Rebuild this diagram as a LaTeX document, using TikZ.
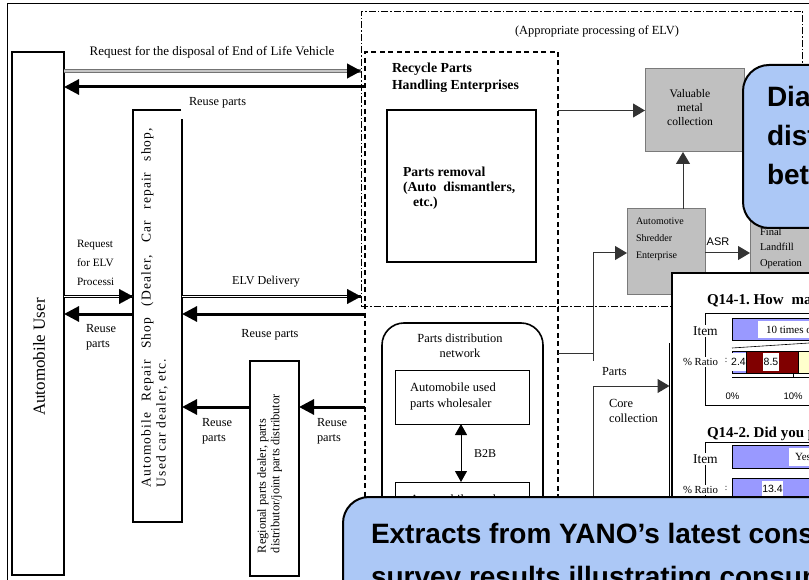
\documentclass[tikz,border=0pt]{standalone}
\usepackage{fontspec}
\setmainfont{Liberation Serif}
\newfontfamily\arial{Liberation Sans}
\newfontfamily\spaced[LetterSpace=8]{Liberation Serif}
\usetikzlibrary{arrows.meta}
\newcommand\myfs[2]{\fontsize{#1}{#2}\selectfont}
\definecolor{gfill}{HTML}{C0C0C0}
\definecolor{gline}{HTML}{7A7A7A}
\definecolor{lav}{HTML}{9999FF}
\definecolor{dred}{HTML}{800000}
\definecolor{lyel}{HTML}{FFFFCC}
\definecolor{cblue}{RGB}{172,200,246}
\definecolor{conn}{HTML}{333333}
\begin{document}
\begin{tikzpicture}[x=1pt,y=-1pt,
 every node/.style={inner sep=0pt, outer sep=0pt},
 bbox/.style={draw, line width=1.6pt, fill=white},
 tbox/.style={draw, line width=1pt},
 gbox/.style={draw=gline, fill=gfill, line width=1pt},
 dashdot/.style={draw, line width=0.8pt, dash pattern=on 7pt off 2pt on 1.5pt off 2pt},
 dashbox/.style={draw, line width=1.6pt, dash pattern=on 5pt off 3.5pt},
 fat/.style={line width=3pt, -{Triangle[length=15pt,width=15pt]}},
 dblk/.style={double, double distance=1.8pt, line width=0.8pt},
 dgray/.style={draw=gray!90!black, double=gray!45, double distance=1.6pt, line width=1.2pt},
 tip/.style={line width=0.1pt, -{Triangle[length=14pt,width=15pt]}},
 thin/.style={line width=1pt, draw=conn},
 thinarr/.style={thin, -{Triangle[length=12pt,width=14pt]}},
 callout/.style={draw, line width=2pt, fill=cblue, rounded corners=26pt},
 lbl/.style={font=\myfs{12.3}{15.3}, align=left},
 whitelbl/.style={fill=white, inner xsep=1pt, inner ysep=1.5pt},
 bigtxt/.style={font=\arial\bfseries\myfs{28}{30}},
]
\useasboundingbox (0,0) rectangle (809,580);
\fill[white] (0,0) rectangle (809,580);
% outer frame
\draw[line width=1.8pt] (7.5,3.5) rectangle (840,620);

% appropriate processing region
\node[dashdot, minimum width=441pt, minimum height=295pt, anchor=north west] (dda) at (361,11) {};
\node[font=\myfs{12.4}{14}] (apl) at (597,31) {(Appropriate processing of ELV)};

% recycle parts handling enterprises
\node[dashbox, minimum width=193pt, minimum height=560pt, anchor=north west] (rpe) at (365,52) {};
\node[anchor=west, font=\bfseries\myfs{13.8}{17}, align=left] (rpel) at (392,78) {Recycle Parts\\Handling Enterprises};
\node[bbox, minimum width=149pt, minimum height=152pt, anchor=north west] (prm) at (387,110) {};
\node[anchor=west, font=\bfseries\myfs{13.7}{15}, align=left] (prml) at (403,188) {Parts removal\\(Auto\ \ dismantlers,\\\hspace{10pt}etc.)};

% automobile user
\node[bbox, minimum width=52pt, minimum height=523pt, anchor=north west] (user) at (12,52) {};
\node[rotate=90, font=\myfs{17}{20}] (userl) at (39,357) {Automobile User};

% repair shop
\node[minimum width=49pt, minimum height=412pt, anchor=north west] (shop) at (133,110) {};
\draw[line width=1.8pt] ([xshift=-1pt]shop.north east) -| (shop.south west) -| ([yshift=-9pt]shop.north east);
\node[rotate=90, anchor=west, font=\spaced\myfs{13.5}{15}] (shop1) at (147.5,487) {\makebox[359pt][s]{Automobile Repair Shop (Dealer, Car repair shop,}};
\node[rotate=90, anchor=west, font=\spaced\myfs{13.5}{15}] (shop2) at (162,487) {Used car dealer, etc.};

% regional parts dealer
\node[bbox, minimum width=49pt, minimum height=215pt, anchor=north west] (reg) at (250,361) {};
\node[rotate=90, anchor=west, font=\myfs{12.3}{14}] (reg1) at (263,553) {Regional parts dealer, parts};
\node[rotate=90, anchor=west, font=\myfs{12.3}{14}] (reg2) at (276.5,553) {distributor/joint parts distributor};

% top arrows
\coordinate (a1s) at (user.east |- 0,71);
\coordinate (a1e) at (dda.west |- 0,71);
\draw[dgray] (a1s) -- (a1e);
\draw[tip] ([xshift=-2pt]a1e) -- (a1e);
\node[font=\myfs{13}{15}] (a1l) at (212,52) {Request for the disposal of End of Life Vehicle};
\draw[fat] (rpe.west |- 0,87) -- (user.east |- 0,87);
\node[anchor=west, lbl] (a2l) at (189,103) {Reuse parts};

% request for ELV processing
\coordinate (b1s) at (user.east |- 0,296.5);
\coordinate (b1e) at (shop.west |- 0,296.5);
\draw[dblk] (b1s) -- (b1e);
\draw[tip] ([xshift=-2pt]b1e) -- (b1e);
\node[anchor=west, font=\myfs{11.2}{19}, align=left] (b1l) at (77,263) {Request\\for ELV\\Processi};

% ELV delivery
\coordinate (b2s) at (shop.east |- 0,296.5);
\coordinate (b2e) at (dda.west |- 0,296.5);
\draw[dblk] (b2s) -- (b2e);
\draw[tip] ([xshift=-2pt]b2e) -- (b2e);
\node[font=\myfs{12.1}{14}] (b2l) at (266,282) {ELV Delivery};

% reuse parts arrows
\draw[fat] (shop.west |- 0,314) -- (user.east |- 0,314);
\node[anchor=west, lbl] (c1l) at (86,337) {Reuse\\parts};
\draw[fat] (rpe.west |- 0,314) -- (shop.east |- 0,314);
\node[lbl] (c2l) at (270,335) {Reuse parts};
\draw[fat] (reg.west |- 0,407) -- (shop.east |- 0,407);
\draw[fat] (rpe.west |- 0,407) -- (reg.east |- 0,407);
\node[anchor=west, lbl] (d1l) at (202,431) {Reuse\\parts};
\node[anchor=west, lbl] (d2l) at (317,431) {Reuse\\parts};

% parts distribution network
\node[draw, line width=1.6pt, rounded corners=22pt, minimum width=161pt, minimum height=290pt, anchor=north west] (pdn) at (382,323) {};
\node[font=\myfs{12.4}{14.5}, align=center] (pdnl) at (460,346) {Parts distribution\\network};
\node[tbox, minimum width=134pt, minimum height=54pt, anchor=north west] (whs) at (395,370) {};
\node[anchor=west, font=\myfs{12.5}{16}, align=left] (whsl) at (410,396) {Automobile used\\parts wholesaler};
\node[tbox, minimum width=134pt, minimum height=60pt, anchor=north west] (ret) at (395,482) {};
\node[anchor=base west, font=\myfs{12.5}{16}] (retl) at (410,503) {Automobile used};
\draw[line width=1pt, {Triangle[length=11pt,width=12pt]}-{Triangle[length=11pt,width=12pt]}] (whs.south -| 461,0) -- (ret.north -| 461,0);
\node[anchor=west, font=\myfs{12}{14}] (b2b) at (474,454) {B2B};

% right side processing
\node[gbox, minimum width=99pt, minimum height=83pt, anchor=north west] (vmc) at (645,69) {};
\node[font=\myfs{11.6}{14}, align=center] (vmcl) at (690,108) {Valuable\\metal\\collection};
\node[gbox, minimum width=78pt, minimum height=86pt, anchor=north west] (shr) at (627,209) {};
\node[anchor=west, font=\myfs{10}{17}, align=left] (shrl) at (636,239) {Automotive\\Shredder\\Enterprise};
\node[gbox, minimum width=90pt, minimum height=100pt, anchor=north west] (lnd) at (750,190) {};
\node[anchor=west, font=\myfs{10.5}{15.5}, align=left] (lndl) at (760,248) {Final\\Landfill\\Operation};

\draw[thinarr] (rpe.east |- vmc.west) -- (vmc.west);
\draw[thinarr] (shr.north -| 683,0) -- (vmc.south -| 683,0);
\coordinate (j1) at (593,253);
\draw[thinarr] (j1) -- (shr.west |- j1);
\draw[thinarr] (shr.east |- j1) -- (lnd.west |- j1);
\node[font=\arial\myfs{11}{13}] (asr) at (718,242) {ASR};
\draw[thin] (j1) -- (593,361);
\draw[thin] (rpe.east |- 0,353) -- (593,353);
\coordinate (j2) at (593,386);
\draw[thin] (j2) -- (593,600);
\coordinate (tgt) at (669.5,386);
\draw[thinarr] (j2) -- (tgt);
\draw[line width=1.2pt] (669.5,343) -- (669.5,497);
\node[anchor=west, lbl] (ptl) at (602,372) {Parts};
\node[anchor=west, font=\myfs{12.4}{15}, align=left] (ccl) at (609,411) {Core\\collection};

% Q14 panel
\node[draw, line width=2pt, fill=white, minimum width=200pt, minimum height=330pt, anchor=north west] (q14) at (672,273) {};
\node[anchor=base west, font=\bfseries\myfs{15}{17}] (q1t) at (707,305) {Q14-1.\ How\hspace{8pt}many times did you};
\draw[line width=1pt] (840,313) -- (705,313) -- (705,405) -- (840,405);
\draw[fill=lav, line width=0.8pt] (732,318) rectangle (840,340);
\fill[white] (758,321) rectangle (840,338);
\node[anchor=west, font=\myfs{11}{13}] (l10) at (766,330) {10 times or more};
\draw[line width=0.6pt] (732,348) -- (840,341);
\draw[fill=lav, line width=0.8pt] (732,351) rectangle (746.6,373);
\draw[fill=dred, line width=0.8pt] (746.6,351) rectangle (798.5,373);
\draw[fill=lyel, line width=0.8pt] (798.5,351) rectangle (840,373);
\node[fill=white, minimum width=15pt, minimum height=18pt, font=\arial\myfs{10.5}{12}] (v24) at (738.5,361.5) {2.4};
\node[fill=white, minimum width=16pt, minimum height=18pt, font=\arial\myfs{10.5}{12}] (v85) at (771,361.5) {8.5};
\draw[line width=0.8pt] (732,377) -- (840,377);
\draw[line width=0.8pt] (793,372.5) -- (793,377);
\node[font=\arial\myfs{9.5}{11}] (t0) at (732.5,396) {0\%};
\node[font=\arial\myfs{9.5}{11}] (t10) at (793,396) {10\%};
\node[anchor=west, whitelbl, font=\myfs{13.5}{15}] (it1) at (692,331) {Item};
\node[anchor=west, whitelbl, font=\myfs{10.8}{12}] (pr1) at (682,362) {\% Ratio};
\node[font=\myfs{9}{10}] (cl1) at (726,360) {:};

\node[anchor=base west, font=\bfseries\myfs{15}{17}] (q2t) at (707,437) {Q14-2.\ Did you purchase};
\draw[line width=1pt] (840,442) -- (705,442) -- (705,600);
\draw[fill=lav, line width=0.8pt] (732,445) rectangle (840,468);
\fill[white] (789,448) rectangle (840,466);
\node[anchor=west, font=\myfs{11}{13}] (yes) at (795,457) {Yes};
\draw[fill=lav, line width=0.8pt] (732,478) rectangle (840,530);
\node[fill=white, minimum width=21pt, minimum height=16pt, font=\arial\myfs{10.5}{12}] (v134) at (772.5,488.5) {13.4};
\node[anchor=west, whitelbl, font=\myfs{13.5}{15}] (it2) at (692,459) {Item};
\node[anchor=west, whitelbl, font=\myfs{10.8}{12}] (pr2) at (682,490) {\% Ratio};
\node[font=\myfs{9}{10}] (cl2) at (726,488) {:};

% callouts
\node[callout, minimum width=120pt, minimum height=163pt, anchor=north west] (co1) at (743,65) {};
\node[anchor=base west, bigtxt] (co1a) at (767,107) {Diagram of};
\node[anchor=base west, bigtxt] (co1b) at (767,146) {distribution};
\node[anchor=base west, bigtxt] (co1c) at (767,185) {between};
\node[callout, minimum width=520pt, minimum height=150pt, anchor=north west] (co2) at (343,497) {};
\node[anchor=base west, bigtxt] (co2a) at (371,543) {Extracts from YANO’s latest consumer};
\node[anchor=base west, bigtxt] (co2b) at (371,586) {survey results illustrating consumer};
\end{tikzpicture}
\end{document}
